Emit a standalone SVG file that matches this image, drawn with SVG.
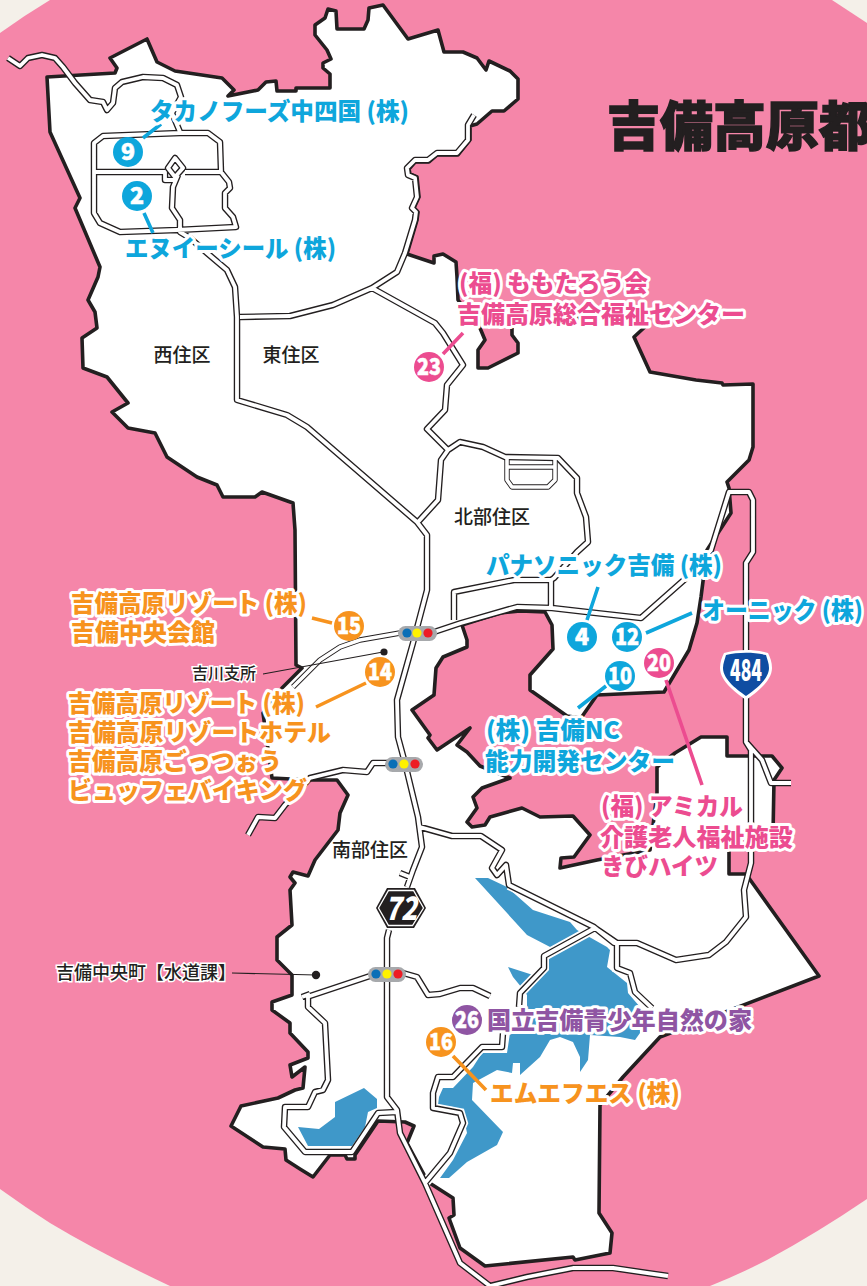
<svg xmlns="http://www.w3.org/2000/svg" xmlns:xlink="http://www.w3.org/1999/xlink" width="867" height="1286" viewBox="0 0 867 1286">
<style>
text{font-family:"Noto Sans CJK JP","Noto Sans",sans-serif}
.l{font-size:24px;font-weight:800;paint-order:stroke;stroke:#fff;stroke-width:6px;stroke-linejoin:round}
.bl{fill:#0ea6dc}.pk{fill:#ec4c90}.og{fill:#f7931e}.pu{fill:#8f55a3}
.a{font-size:19px;font-weight:500;fill:#231f20;text-anchor:middle}
.s{font-size:16px;font-weight:500;fill:#231f20;paint-order:stroke;stroke:#fff;stroke-width:3px}
.n{font-size:23px;font-weight:900;fill:#fff;text-anchor:middle;stroke:#fff;stroke-width:.6px}
.ro{fill:none;stroke:#231f20;stroke-width:6.5;stroke-linejoin:round}
.ri{fill:none;stroke:#fff;stroke-width:3.8;stroke-linejoin:round}
.to{fill:none;stroke:#231f20;stroke-width:5.4;stroke-linejoin:round}
.ti{fill:none;stroke:#fff;stroke-width:3.6;stroke-linejoin:round}
.ld{fill:none;stroke-width:3.6}
.th{stroke:#231f20;stroke-width:1.2;fill:none}
.lamp{fill:#a7a9ac}
</style>
<defs>
<path id="roads" d="M8,58 L20,66 L28,58 L42,55 L55,58 L63,67 L75,83 L90,100 L103,102 L107,110 L113,103 L115,88 L122,82 L143,77 L163,78 L177,85 L181,97 L172,113 L180,132
M94,172 L165,172 M185,172 L221,172 L229,182 L230,188 L225,193 L225,208 L233,217 L236,227 L177,230 L120,232 L100,223 L94,213 L94,143 L103,136 L180,133 L208,133 L220,142 L221,172
M175,158 L183,168 L175,177 L168,168 Z M165,172 L165,180 L175,180 M178,175 L173,187 L172,208 L180,220 L180,232 L190,238 L207,253 L227,270 L235,287 L237,317 L237,400 L287,415 L307,427 L417,522 L427,535 L427,590 L413,643 L397,700 L398,737 L405,763 L418,817 L422,847 L413,870 L407,887
M240,317 L290,316 L333,305 L372,288 L397,272 L405,253 L415,220 L416,212 L412,208 L417,197 L415,178 L408,175 L407,168 L415,160 L428,160 L437,153 L457,153 L468,140 L468,125 L474,115
M372,288 L435,323 L443,333 L463,365 L447,385 L445,410 L427,429 L448,450 L441,460 L438,500 L418,522
M448,450 L460,442 L483,447 L505,457 L558,458 L577,478 L577,493 L586,517 L588,542 L577,552 L554,578 L551,580 L514,580 L454,592 L454,620
M551,580 L551,608
M405,763 L373,763 L367,772 L343,770 L310,778 L285,805 L275,818 L258,817 L248,835
M420,827 L452,836 L481,836 L502,850 L492,868 L497,875 L506,865 L509,885 L594,927 L614,943 L637,943 L676,960 L709,955 L726,942 L746,917 L744,890 L751,863 L751,750 L746,742 L746,563 L753,552 L753,500 L749,492 L729,492 L711,550 L684,580 L641,618 L587,612 L552,608 L517,607 L461,623 L434,632 L400,634
M746,742 L762,760 L771,783 L791,783
M400,873 L410,877
M389,930 L387,938 L387,1097 L397,1110 L400,1133 L425,1183 L460,1263 L490,1286 L527,1277 L573,1268 L613,1268 L668,1276
M595,928 L617,943 L617,968 L630,973 L635,992 L652,1008 M595,928 L544,956 L544,968 L520,993 L519,1007 M503,1033 L502,1047 L482,1047 L453,1077 L438,1077 L433,1093 L433,1108 L460,1113 L463,1123 L450,1153 L425,1183
M307,997 L373,975 M403,973 L417,977 L428,995 L440,994 L460,988 L473,988 L490,996
M302,997 L310,994 M308,994 L308,1007 L325,1023 L328,1080 L323,1090 L315,1092 L308,1107 L285,1107 L284,1127 L305,1152 L352,1152 L378,1113 L397,1112"/>
<path id="thin" d="M400,633 L360,640 L340,647 L320,660 L293,687 M507,459 L507,480 L512,487 L548,487 L555,480 L555,459 M507,467 L555,467"/>
</defs>
<g id="background">
<rect width="867" height="1286" fill="#f4f0e9"/>
<path d="M50,0 L832,0 L867,23 L867,1199 Q817,1233 767,1260 Q740,1274 710,1286 L170,1286 Q100,1253 50,1223 Q25,1207 0,1189 L0,33 Q25,15 50,0 Z" fill="#f586a9"/>
</g>
<g id="map">
<path fill="#fff" stroke="#231f20" stroke-width="3.6" stroke-linejoin="round" d="M47,77 L115,73 L117,68 L110,58 L147,39 L157,62 L175,71 L222,78 L234,90 L228,96 L258,90 L266,82 L276,81 L277,91 L296,91 L296,88 L330,88 L330,74 L323,68 L323,63 L331,59 L327,50 L315,35 L315,25 L325,18 L328,9 L336,11 L337,29 L364,29 L368,20 L369,8 L383,5 L408,39 L438,30 L444,52 L463,52 L477,58 L486,70 L489,61 L510,71 L518,79 L518,99 L504,111 L492,111 L477,124 L470,126 L470,140 L458,155 L437,155 L429,162 L415,162 L409,169 L410,174 L417,177 L419,197 L414,208 L418,212 L417,220 L407,254 L434,263 L434,256 L443,254 L456,262 L457,277 L458,300 L470,315 L480,328 L485,340 L478,350 L478,368 L488,368 L518,353 L518,343 L512,335 L512,318 L645,318 L647,325 L634,337 L650,372 L696,380 L722,383 L723,385 L753,384 L753,447 L749,460 L727,482 L729,488 L731,513 L707,550 L701,597 L697,623 L689,650 L664,692 L597,695 L581,718 L567,716 L530,690 L530,675 L553,649 L552,625 L545,612 L520,611 L500,613 L462,625 L467,640 L467,647 L443,657 L436,668 L434,695 L412,710 L430,735 L428,738 L437,750 L470,728 L457,745 L467,752 L480,766 L510,778 L482,788 L473,797 L477,808 L467,822 L472,827 L485,825 L490,817 L522,808 L540,817 L573,816 L590,835 L574,857 L561,858 L560,868 L597,860 L650,850 L657,793 L657,767 L675,753 L701,737 L727,737 L727,756 L772,756 L782,768 L774,780 L773,835 L729,840 L729,874 L746,874 L819,976 L660,1037 L623,1077 L600,1105 L599,1213 L612,1233 L610,1253 L575,1260 L573,1257 L485,1266 L460,1248 L449,1218 L454,1215 L453,1198 L428,1182 L407,1143 L414,1126 L405,1122 L378,1121 L355,1155 L355,1159 L347,1159 L345,1155 L330,1155 L313,1177 L300,1169 L286,1160 L285,1149 L263,1147 L231,1126 L241,1106 L278,1098 L295,1090 L303,1088 L305,1067 L292,1077 L290,1065 L308,1058 L308,1052 L290,1033 L290,1023 L272,1010 L272,1002 L292,995 L292,975 L277,960 L277,937 L292,925 L290,890 L295,883 L290,877 L293,872 L308,876 L315,860 L338,830 L340,813 L348,795 L337,780 L310,780 L272,778 L263,713 L282,688 L302,668 L296,665 L295,530 L293,503 L262,492 L255,497 L223,497 L217,485 L197,477 L167,457 L155,433 L128,428 L112,412 L128,403 L107,377 L83,368 L82,338 L97,328 L95,312 L88,300 L98,277 L100,267 L75,208 L80,198 L50,132 Z"/>
</g>
<g id="lakes" fill="#3f98c9">
<path d="M475,878 L488,878 L507,887 L533,910 L570,922 L577,930 L607,947 L610,950 L607,967 L617,975 L627,983 L628,993 L640,1007 L640,1033 L635,1040 L620,1037 L590,1035 L588,1060 L580,1072 L580,1057 L573,1042 L560,1037 L550,1040 L540,1057 L520,1075 L520,1063 L513,1063 L512,1073 L497,1070 L473,1083 L472,1100 L503,1132 L497,1145 L467,1162 L449,1178 L440,1178 L453,1160 L467,1133 L463,1113 L453,1107 L438,1105 L439,1097 L443,1088 L453,1088 L473,1067 L482,1053 L507,1053 L510,1033 L527,1007 L527,995 L522,988 L513,977 L508,967 L533,975 L547,957 L552,948 L527,935 Z"/>
<path d="M298,1127 L319,1129 L335,1117 L335,1102 L364,1088 L377,1099 L377,1108 L368,1112 L365,1127 L352,1146 L308,1146 Z"/>
<path fill="none" stroke="#fff" stroke-width="10" d="M509,885 L594,927 M595,928 L544,956 L544,968 L520,993 L519,1007 M503,1040 L502,1047 L482,1047 L453,1077 L438,1077 L433,1093 L433,1108 L460,1113 L463,1123 L450,1153 L425,1183 M595,928 L617,943 L617,968 L630,973 L635,992 L645,1002"/>
</g>
<g id="connectors">
<use xlink:href="#roads" href="#roads" class="ro"/>
<use xlink:href="#thin" href="#thin" class="to"/>
<use xlink:href="#roads" href="#roads" class="ri"/>
<use xlink:href="#thin" href="#thin" class="ti"/>
<g class="ld">
<path stroke="#0ea6dc" d="M143,138 L161,124 M144,213 L153,233 M587,620 L598,587 M646,633 L692,613 M578,708 L606,686"/>
<path stroke="#ec4c90" d="M443,354 L463,333 M666,680 L702,785"/>
<path stroke="#f7931e" d="M312,618 L332,623 M316,707 L366,683 M453,1056 L486,1090"/>
</g>
<path class="th" d="M263,674 L383,652 M232,973 L316,975"/>
</g>
<g id="light-a" class="tl"><rect class="lamp" x="398" y="626" width="39" height="15" rx="7.5"/><circle cx="407" cy="633" r="4.6" fill="#0a6fb7"/><circle cx="417" cy="633" r="4.6" fill="#fff200"/><circle cx="428" cy="633" r="4.6" fill="#ed1c24"/></g>
<g id="light-b" class="tl"><rect class="lamp" x="385" y="757" width="38" height="15" rx="7.5"/><circle cx="393" cy="764" r="4.6" fill="#0a6fb7"/><circle cx="404" cy="764" r="4.6" fill="#fff200"/><circle cx="415" cy="764" r="4.6" fill="#ed1c24"/></g>
<g id="light-c" class="tl"><rect class="lamp" x="368" y="967" width="38" height="15" rx="7.5"/><circle cx="376" cy="974" r="4.6" fill="#0a6fb7"/><circle cx="387" cy="974" r="4.6" fill="#fff200"/><circle cx="398" cy="974" r="4.6" fill="#ed1c24"/></g>
<g id="dots" fill="#231f20"><circle cx="384" cy="652" r="3.6"/><circle cx="316" cy="975" r="4.2"/></g>
<g id="route-72">
<path d="M376,908 L387,888 L415,888 L426,908 L414,928 L387,928 Z" fill="#231f20"/>
<path d="M378.500,908 L388.500,890.500 L413.500,890.500 L423.500,908 L412.500,925.500 L388.500,925.500 Z" fill="none" stroke="#fff" stroke-width="1.300"/>
<text x="401" y="920" font-size="32" font-weight="900" font-style="italic" fill="#fff" text-anchor="middle" textLength="32" lengthAdjust="spacingAndGlyphs">72</text>
</g>
<g id="route-484">
<path d="M746,700 C738,694 720,682 720,668 C720,662 722,657 724,653 C738,649 754,649 768,653 C770,657 772,662 772,668 C772,682 754,694 746,700 Z" fill="#fff"/>
<path d="M746,696 C739,691 723,680 723,668 C723,663 725,659 726,655 C738,652 754,652 766,655 C767,659 769,663 769,668 C769,680 753,691 746,696 Z" fill="#0f4da2"/>
<text x="746" y="681" font-size="30" font-weight="900" fill="#fff" text-anchor="middle" textLength="32" lengthAdjust="spacingAndGlyphs">484</text>
</g>
<g id="title"><text x="607" y="146" font-size="53" font-weight="900" fill="#231f20" stroke="#231f20" stroke-width="1.500">吉備高原都</text></g>
<g id="area-nishi"><text class="a" x="182" y="362">西住区</text></g>
<g id="area-higashi"><text class="a" x="291" y="362">東住区</text></g>
<g id="area-hokubu"><text class="a" x="492" y="524">北部住区</text></g>
<g id="area-nanbu"><text class="a" x="370" y="857">南部住区</text></g>
<g id="place-yoshikawa"><text class="s" x="192" y="679" textLength="64" lengthAdjust="spacingAndGlyphs">吉川支所</text></g>
<g id="place-chuo"><text class="s" x="56" y="979" style="font-size:18px" textLength="180" lengthAdjust="spacingAndGlyphs">吉備中央町【水道課】</text></g>
<g id="node-9"><circle cx="128" cy="152" r="15" class="bl"/><text class="n" x="128" y="160">9</text><text class="l bl" x="150" y="120" textLength="259" lengthAdjust="spacingAndGlyphs">タカノフーズ中四国 (株)</text></g>
<g id="node-2"><circle cx="137" cy="196" r="15" class="bl"/><text class="n" x="137" y="204">2</text><text class="l bl" x="125" y="257" textLength="211" lengthAdjust="spacingAndGlyphs">エヌイーシール (株)</text></g>
<g id="node-23"><circle cx="429" cy="367" r="15" class="pk"/><text class="n" x="429" y="375" textLength="24" lengthAdjust="spacingAndGlyphs">23</text><text class="l pk" x="459" y="292" textLength="189" lengthAdjust="spacingAndGlyphs">(福) ももたろう会</text><text class="l pk" x="457" y="323" textLength="288" lengthAdjust="spacingAndGlyphs">吉備高原総合福祉センター</text></g>
<g id="node-4"><circle cx="582" cy="637" r="15" class="bl"/><text class="n" x="582" y="645">4</text><text class="l bl" x="486" y="574" textLength="236" lengthAdjust="spacingAndGlyphs">パナソニック吉備 (株)</text></g>
<g id="node-12"><circle cx="627" cy="637" r="15" class="bl"/><text class="n" x="627" y="645" textLength="24" lengthAdjust="spacingAndGlyphs">12</text><text class="l bl" x="702" y="619" textLength="161" lengthAdjust="spacingAndGlyphs">オーニック (株)</text></g>
<g id="node-10"><circle cx="620" cy="676" r="15" class="bl"/><text class="n" x="620" y="684" textLength="24" lengthAdjust="spacingAndGlyphs">10</text><text class="l bl" x="486" y="739" textLength="134" lengthAdjust="spacingAndGlyphs">(株) 吉備NC</text><text class="l bl" x="485" y="770" textLength="190" lengthAdjust="spacingAndGlyphs">能力開発センター</text></g>
<g id="node-20"><circle cx="659" cy="663" r="15" class="pk"/><text class="n" x="659" y="671" textLength="24" lengthAdjust="spacingAndGlyphs">20</text><text class="l pk" x="601" y="815" textLength="142" lengthAdjust="spacingAndGlyphs">(福) アミカル</text><text class="l pk" x="600" y="846" textLength="193" lengthAdjust="spacingAndGlyphs">介護老人福祉施設</text><text class="l pk" x="601" y="875" textLength="117" lengthAdjust="spacingAndGlyphs">きびハイツ</text></g>
<g id="node-15"><circle cx="349" cy="626" r="15" class="og"/><text class="n" x="349" y="634" textLength="24" lengthAdjust="spacingAndGlyphs">15</text><text class="l og" x="71" y="612" textLength="236" lengthAdjust="spacingAndGlyphs">吉備高原リゾート (株)</text><text class="l og" x="71" y="641" textLength="144" lengthAdjust="spacingAndGlyphs">吉備中央会館</text></g>
<g id="node-14"><circle cx="380" cy="672" r="15" class="og"/><text class="n" x="380" y="680" textLength="24" lengthAdjust="spacingAndGlyphs">14</text><text class="l og" x="68" y="712" textLength="237" lengthAdjust="spacingAndGlyphs">吉備高原リゾート (株)</text><text class="l og" x="68" y="741" textLength="263" lengthAdjust="spacingAndGlyphs">吉備高原リゾートホテル</text><text class="l og" x="68" y="770" textLength="214" lengthAdjust="spacingAndGlyphs">吉備高原ごっつぉう</text><text class="l og" x="68" y="799" textLength="239" lengthAdjust="spacingAndGlyphs">ビュッフェバイキング</text></g>
<g id="node-16"><circle cx="441" cy="1042" r="15" class="og"/><text class="n" x="441" y="1050" textLength="24" lengthAdjust="spacingAndGlyphs">16</text><text class="l og" x="490" y="1102" textLength="190" lengthAdjust="spacingAndGlyphs">エムエフエス (株)</text></g>
<g id="node-26"><circle cx="467" cy="1020" r="15" class="pu"/><text class="n" x="467" y="1028" textLength="24" lengthAdjust="spacingAndGlyphs">26</text><text class="l pu" x="487" y="1029" textLength="265" lengthAdjust="spacingAndGlyphs">国立吉備青少年自然の家</text></g>
</svg>
